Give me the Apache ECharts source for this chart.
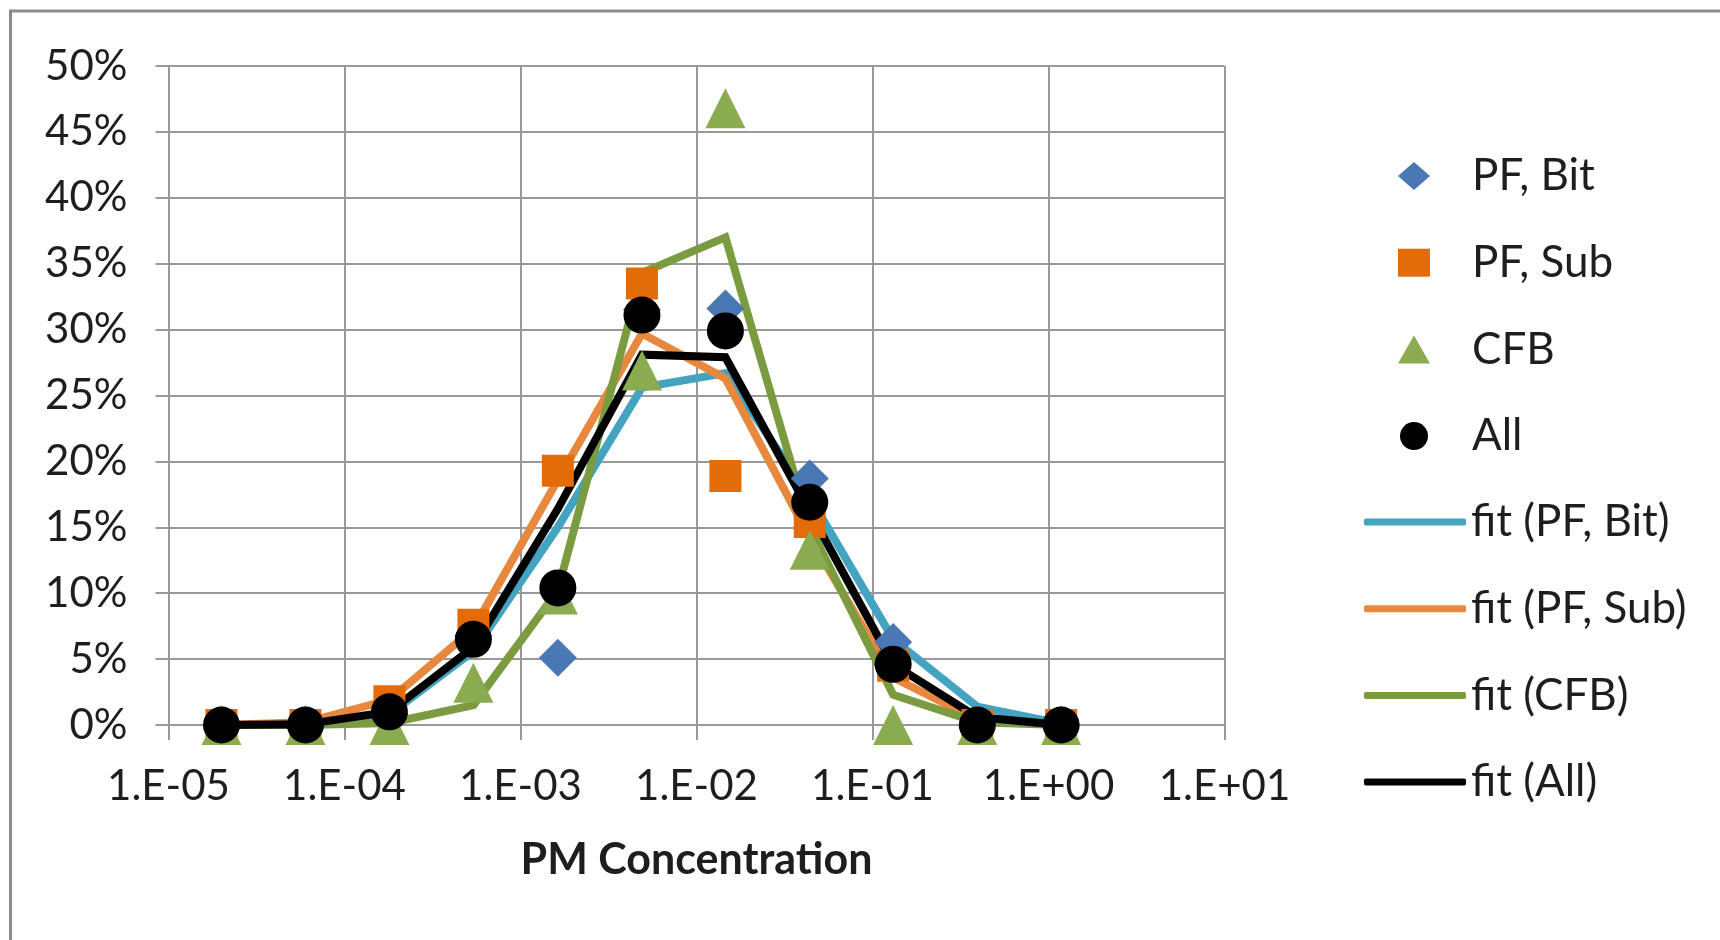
<!DOCTYPE html>
<html>
<head>
<meta charset="utf-8">
<title>PM Concentration</title>
<script src="https://cdn.jsdelivr.net/npm/echarts@6.0.0/dist/echarts.min.js"></script>
<style>
  html, body { margin: 0; padding: 0; background: #fff; }
  #chart { width: 1720px; height: 940px; }
</style>
</head>
<body>
<div id="chart"></div>
<script>
// bin centres on the x axis (log scale)
const conc = [2.0e-5, 6.0e-5, 1.8e-4, 5.4e-4, 1.63e-3, 4.9e-3, 1.46e-2, 4.4e-2, 0.131, 0.394, 1.18];

// measured shares, in %
const pfBit = [0, 0, 0.8, 6.8, 5.1, 31.5, 31.6, 18.7, 6.3, 0, 0];
const pfSub = [0, 0, 1.8, 7.6, 19.3, 33.5, 18.9, 15.4, 4.5, 0, 0];
const cfb = [0, 0, 0, 3.2, 9.9, 26.9, 46.8, 13.3, 0, 0, 0];
const all = [0, 0, 1.0, 6.5, 10.4, 31.1, 29.9, 16.9, 4.6, 0, 0];

// fitted curves, in %
const fitPfBit = [0, 0.05, 0.8, 5.6, 15.0, 25.6, 26.7, 17.3, 6.5, 1.4, 0.1];
const fitPfSub = [0, 0.2, 1.9, 7.3, 18.6, 29.7, 26.3, 14.2, 3.6, 0.4, 0];
const fitCfb = [0, 0, 0.15, 1.5, 10.2, 34.3, 37.0, 15.0, 2.3, 0.2, 0];
const fitAll = [0, 0.05, 1.0, 5.9, 16.4, 28.1, 27.9, 16.2, 4.6, 0.6, 0];

const pointNames = ['PF, Bit', 'PF, Sub', 'CFB', 'All'];
const fitNames = ['fit (PF, Bit)', 'fit (PF, Sub)', 'fit (CFB)', 'fit (All)'];

const pairs = (ys) => conc.map((x, i) => [x, ys[i]]);

const gridColor = '#999999';
const textColor = '#1e1e1e';
const font = 'Lato, "Open Sans", sans-serif';

function lineSeries(name, ys, color) {
  return {
    name: name,
    type: 'line',
    data: pairs(ys),
    symbol: 'none',
    lineStyle: { color: color, width: 8, join: 'miter' },
    itemStyle: { color: color },
    z: 2,
  };
}

function pointSeries(name, ys, symbol, size, color) {
  return {
    name: name,
    type: 'scatter',
    data: pairs(ys),
    symbol: symbol,
    symbolSize: size,
    itemStyle: { color: color, opacity: 1 },
    z: 3,
  };
}

const legendText = {
  fontFamily: font,
  fontSize: 44,
  lineHeight: 44,
  color: textColor,
};

const option = {
  animation: false,
  backgroundColor: '#fff',
  grid: { left: 168.5, top: 66, width: 1056, height: 659, containLabel: false },
  graphic: [
    {
      // outer chart frame (runs off the page on right / bottom)
      type: 'rect',
      shape: { x: 10.5, y: 11, width: 2000, height: 2000 },
      style: { fill: 'none', stroke: '#8c8c8c', lineWidth: 3 },
      silent: true,
    },
  ],
  legend: [
    {
      data: pointNames,
      orient: 'vertical',
      left: 1398,
      top: 154,
      padding: 0,
      itemWidth: 32,
      itemHeight: 28,
      itemGap: 42.7,
      textStyle: Object.assign({ padding: [0, 0, 0, 37] }, legendText),
    },
    {
      data: fitNames.map((n) => ({ name: n, icon: 'roundRect' })),
      orient: 'vertical',
      left: 1364,
      top: 500,
      padding: 0,
      itemWidth: 102,
      itemHeight: 7,
      itemGap: 42.7,
      textStyle: legendText,
    },
  ],
  xAxis: {
    type: 'log',
    logBase: 10,
    min: 1e-5,
    max: 10,
    name: 'PM Concentration',
    nameLocation: 'middle',
    nameGap: 114,
    nameTextStyle: {
      fontFamily: font,
      fontSize: 43,
      fontWeight: 'bold',
      color: textColor,
    },
    axisLine: { show: true, lineStyle: { color: gridColor, width: 2 } },
    axisTick: { show: true, length: 15, lineStyle: { color: gridColor, width: 2 } },
    axisLabel: {
      margin: 40,
      fontFamily: font,
      fontSize: 42,
      color: textColor,
      formatter: function (v) {
        const e = Math.round(Math.log10(v));
        return '1.E' + (e < 0 ? '-' : '+') + String(Math.abs(e)).padStart(2, '0');
      },
    },
    splitLine: { show: true, lineStyle: { color: gridColor, width: 2 } },
    minorTick: { show: false },
  },
  yAxis: {
    type: 'value',
    min: 0,
    max: 50,
    interval: 5,
    axisLine: { show: true, lineStyle: { color: gridColor, width: 2 } },
    axisTick: { show: true, length: 13, lineStyle: { color: gridColor, width: 2 } },
    axisLabel: {
      margin: 41,
      fontFamily: font,
      fontSize: 42,
      color: textColor,
      formatter: '{value}%',
    },
    splitLine: { show: true, lineStyle: { color: gridColor, width: 2 } },
  },
  series: [
    lineSeries(fitNames[0], fitPfBit, '#43a3c1'),
    lineSeries(fitNames[1], fitPfSub, '#e8883e'),
    lineSeries(fitNames[2], fitCfb, '#7a9b3f'),
    lineSeries(fitNames[3], fitAll, '#000000'),
    pointSeries(pointNames[0], pfBit, 'diamond', 38, '#4a78b4'),
    pointSeries(pointNames[1], pfSub, 'rect', 32, '#e36c09'),
    pointSeries(pointNames[2], cfb, 'triangle', 40, '#8aab4f'),
    pointSeries(pointNames[3], all, 'circle', 37, '#000000'),
  ],
};

const myChart = echarts.init(document.getElementById('chart'), null, { renderer: 'canvas' });
myChart.setOption(option);
</script>
</body>
</html>
